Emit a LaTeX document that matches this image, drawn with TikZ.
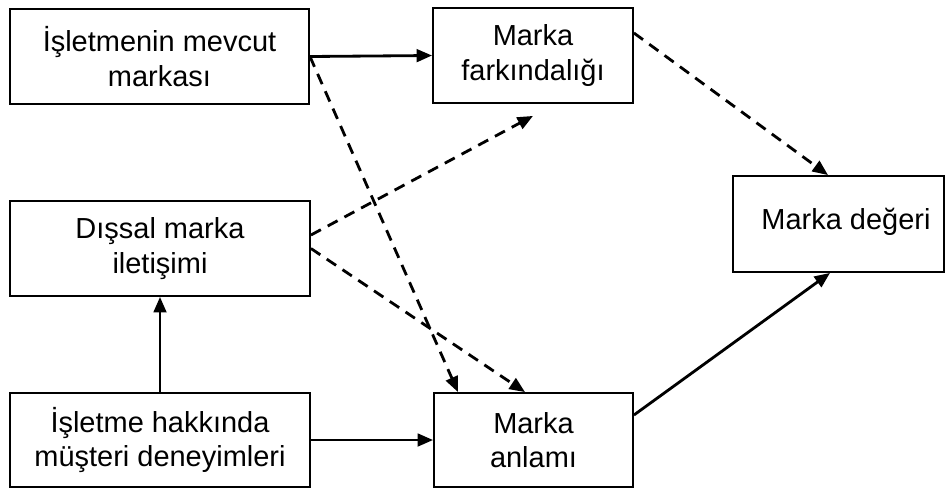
\documentclass[tikz,border=0pt]{standalone}
\usepackage{fontspec}
\setmainfont{Liberation Sans}
\usetikzlibrary{arrows.meta,calc}
\begin{document}
\begin{tikzpicture}[x=0.025cm,y=-0.025cm,
  box/.style={draw,line width=1.3pt,align=center,inner sep=0pt,
    font=\fontsize{20.6}{24.5}\selectfont},
  solidarrow/.style={line width=2pt,-{Triangle[length=11pt,width=9pt]}},
  dasharrow/.style={line width=2pt,dash pattern=on 8pt off 5.5pt,-{Triangle[length=11pt,width=9pt]}}]
\useasboundingbox (0,0) rectangle (950,489);
\node[box,minimum width=7.475cm,minimum height=2.375cm] (mevcut) at (159.5,56.5) {İşletmenin mevcut\\markası};
\node[box,minimum width=5cm,minimum height=2.375cm] (fark) at (533,55.5) {Marka\\farkındalığı};
\node[box,minimum width=7.5cm,minimum height=2.375cm] (dissal) at (160,248.5) {Dışsal marka\\iletişimi};
\node[box,minimum width=5.275cm,minimum height=2.4cm] (deger) at (838.5,224) {};
\node[font=\fontsize{20.6}{24.5}\selectfont,inner sep=0pt] (degertext) at (846,222) {Marka değeri};
\node[box,minimum width=7.5cm,minimum height=2.35cm] (isletme) at (160,440) {İşletme hakkında\\müşteri deneyimleri};
\node[box,minimum width=4.975cm,minimum height=2.35cm] (anlam) at (533.5,440) {Marka\\anlamı};

\draw[solidarrow] (mevcut.east) -- (fark.west);
\draw[dasharrow] (mevcut.east) -- ($(anlam.north)+(-75.5,0)$);
\draw[dasharrow] ($(dissal.east)+(0,-13.5)$) -- ($(fark.south)+(0,12)$);
\draw[dasharrow] (dissal.east) -- ($(anlam.north)+(-8.5,0)$);
\draw[dasharrow] ($(fark.east)+(0,-22.5)$) -- ($(deger.north)+(-10.5,0)$);
\draw[solidarrow] ($(anlam.east)+(0,-25)$) -- ($(deger.south)+(-8.5,0)$);
\draw[solidarrow] (isletme.north) -- (dissal.south);
\draw[solidarrow] (isletme.east) -- (anlam.west);
\end{tikzpicture}
\end{document}
